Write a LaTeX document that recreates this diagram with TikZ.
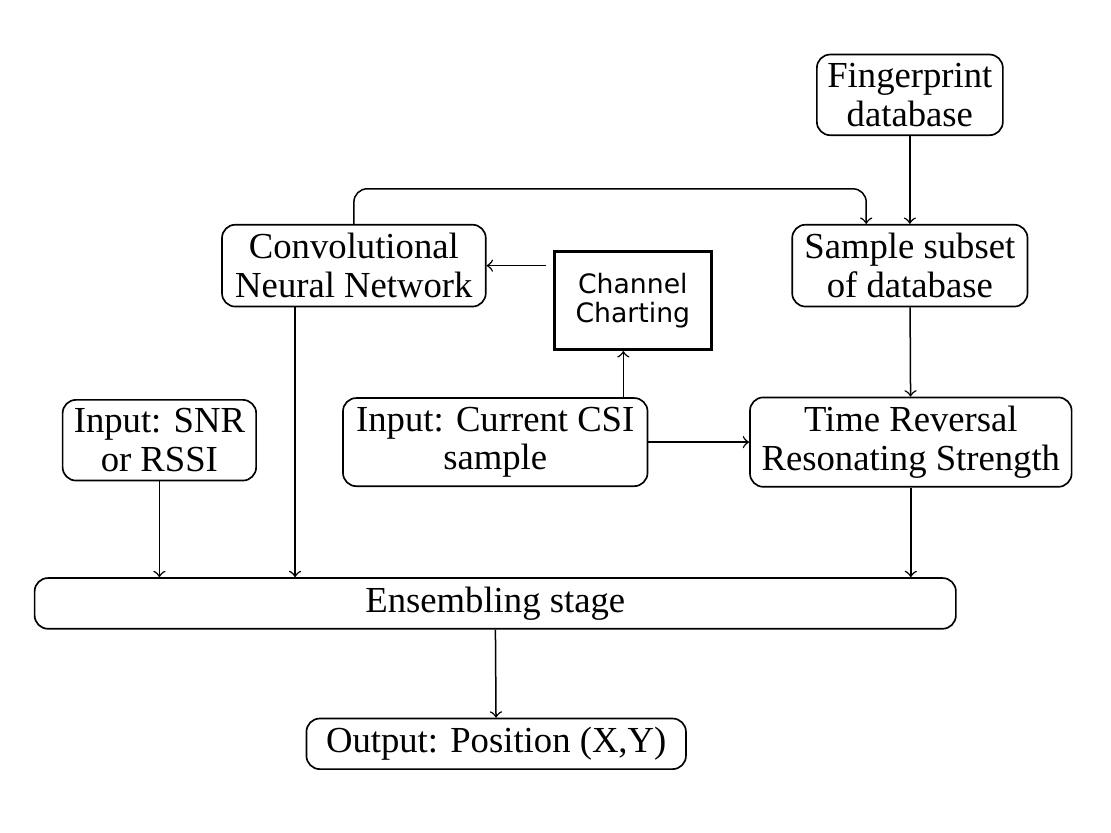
\documentclass[tikz,border=0pt]{standalone}
\usepackage{fontspec}
\setmainfont{Liberation Serif}
\newfontfamily\ccfont{DejaVu Sans}
\usepackage{tikz}
\usetikzlibrary{calc}

\begin{document}
\begin{tikzpicture}[
    font=\fontsize{11}{11.6}\selectfont,
    block/.style={draw, rounded corners, align=center, line width=0.5pt, inner xsep=2pt, inner ysep=2.6pt},
    plain/.style={draw, align=center, line width=0.85pt, font=\ccfont\fontsize{8}{8.9}\selectfont},
    flow/.style={->, line width=0.45pt},
]
\useasboundingbox (0,0) rectangle (11.71,-8.78);

% --- upper row ---
\node[block, minimum width=1.96cm] (fp) at (9.59,-1.00) {Fingerprint\\database};
\node[block, minimum width=2.48cm] (sub) at (9.59,-2.80) {Sample subset\\of database};
\node[block, minimum width=2.78cm] (cnn) at (3.73,-2.80) {Convolutional\\Neural Network};
\node[plain, minimum width=1.65cm, minimum height=1.03cm] (cc) at (6.67,-3.17) {Channel\\Charting};

% --- inputs ---
\node[block, minimum width=2.04cm] (snr) at (1.68,-4.64) {Input: SNR\\or RSSI};
\node[block, minimum width=3.21cm] (csi) at (5.22,-4.66) {Input: Current CSI\\sample};
\node[block, minimum width=3.39cm] (trrs) at (9.60,-4.66) {Time Reversal\\Resonating Strength};

% --- ensembling and output ---
\node[block, minimum width=9.71cm] (ens) at (5.22,-6.36) {Ensembling stage};
\node[block, minimum width=4.00cm] (out) at (5.23,-7.84) {Output: Position (X,Y)};

% connectors
\draw[flow] (fp) -- (sub);
\draw[flow, rounded corners] (cnn.north) -- ++(0,0.37) -| ([xshift=-0.46cm]sub.north);
\draw[flow] ([xshift=-0.07cm]cc.west |- cnn.east) -- (cnn.east);
\draw[flow] ([xshift=-0.1cm]cc.south |- csi.north) -- ([xshift=-0.1cm]cc.south);
\draw[flow] (csi) -- (trrs);
\draw[flow] (sub) -- (trrs);
\draw[flow] (snr.south) -- (snr.south |- ens.north);
\draw[flow] ([xshift=-0.62cm]cnn.south) -- ([xshift=-0.62cm]cnn.south |- ens.north);
\draw[flow] (trrs.south) -- (trrs.south |- ens.north);
\draw[flow] (ens) -- (out);

\end{tikzpicture}
\end{document}
